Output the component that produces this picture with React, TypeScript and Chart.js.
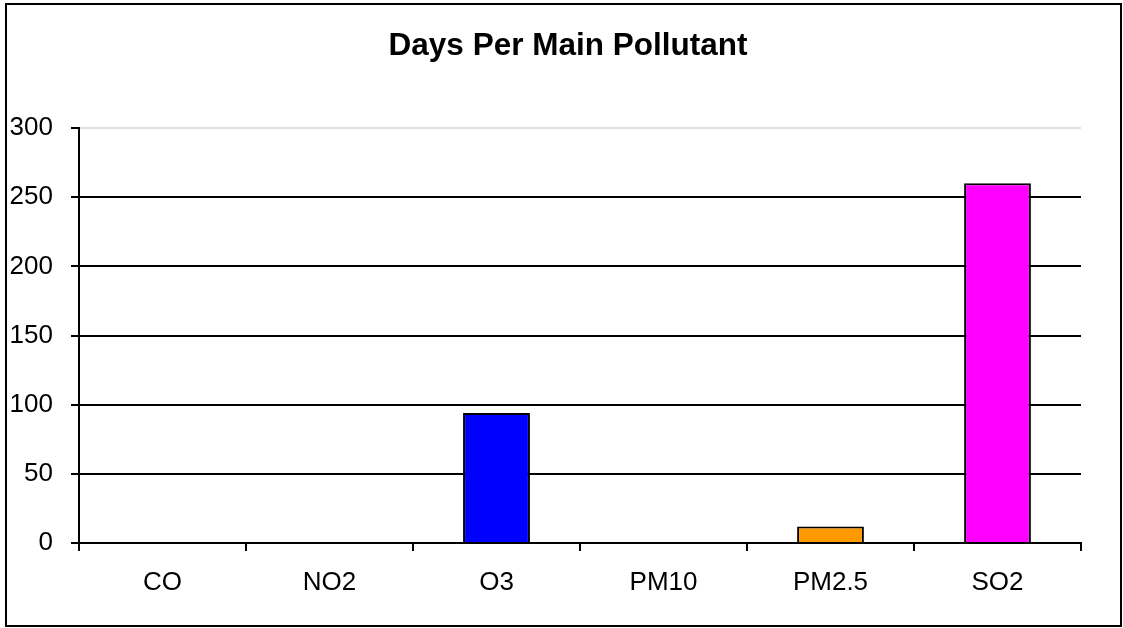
import React, { useEffect, useRef } from "react";
import { Chart, registerables } from "chart.js";

Chart.register(...registerables);

const categories = ["CO", "NO2", "O3", "PM10", "PM2.5", "SO2"];
const days = [0, 0, 94, 0, 12, 260];
const barColors = ["#9999FF", "#993366", "#0000FF", "#FFFFCC", "#FF9900", "#FF00FF"];
const yTicks = [0, 50, 100, 150, 200, 250, 300];
const titleText = "Days Per Main Pollutant";

const FONT = "'Liberation Sans', Arial, Helvetica, sans-serif";

const frame = {
  id: "frame",
  beforeDraw(chart: any) {
    const ctx = chart.ctx;
    ctx.save();
    ctx.fillStyle = "#ffffff";
    ctx.fillRect(0, 0, chart.width, chart.height);
    ctx.restore();
  },
  afterDraw(chart: any) {
    const ctx = chart.ctx;
    ctx.save();
    ctx.strokeStyle = "#000000";
    ctx.lineWidth = 2;
    ctx.strokeRect(6, 4, 1115, 622);
    ctx.restore();
  },
};

export default function App() {
  const ref = useRef<HTMLCanvasElement | null>(null);

  useEffect(() => {
    document.body.style.margin = "0";
    const canvas = ref.current!;
    const chart = new Chart(canvas, {
      type: "bar",
      data: {
        labels: categories,
        datasets: [
          {
            data: days,
            backgroundColor: barColors,
            borderColor: "#000000",
            borderWidth: (c: any) => (c.raw === 0 ? 0 : 2),
            barPercentage: 0.4,
            categoryPercentage: 1.0,
          },
        ],
      },
      options: {
        animation: false,
        responsive: false,
        maintainAspectRatio: false,
        layout: { padding: { top: 0, left: 55, right: 42, bottom: 0 } },
        plugins: {
          legend: { display: false },
          tooltip: { enabled: false },
          title: {
            display: true,
            text: titleText,
            color: "#000000",
            font: { family: FONT, size: 31.5, weight: "bold", lineHeight: 1.2 },
            padding: { top: 27, bottom: 63.2 },
          },
        },
        scales: {
          x: {
            offset: true,
            afterFit: (s: any) => {
              s.height = 85;
            },
            grid: {
              offset: true,
              drawOnChartArea: false,
              drawTicks: true,
              tickLength: 8,
              color: "#000000",
              lineWidth: 2,
            },
            border: { display: true, color: "#000000", width: 2 },
            ticks: {
              color: "#000000",
              padding: 16,
              maxRotation: 0,
              autoSkip: false,
              font: { family: FONT, size: 26 },
            },
          },
          y: {
            min: 0,
            max: 300,
            afterFit: (s: any) => {
              s.width = 24;
              s._computeLabelArea = () => undefined;
            },
            afterBuildTicks: (s: any) => {
              s.ticks = yTicks.map((v) => ({ value: v }));
            },
            grid: {
              drawTicks: true,
              tickLength: 8,
              color: (c: any) => (c.tick && c.tick.value === 300 ? "#e0e0e0" : "#000000"),
              tickColor: "#000000",
              lineWidth: 2,
            },
            border: { display: true, color: "#000000", width: 2 },
            ticks: {
              color: "#000000",
              padding: 18,
              font: { family: FONT, size: 26 },
            },
          },
        },
      },
      plugins: [frame],
    } as any);
    return () => chart.destroy();
  }, []);

  return (
    <div style={{ position: "absolute", left: 0, top: 0, width: 1123, height: 628 }}>
      <canvas ref={ref} width={1123} height={628} style={{ width: 1123, height: 628, display: "block" }} />
    </div>
  );
}
